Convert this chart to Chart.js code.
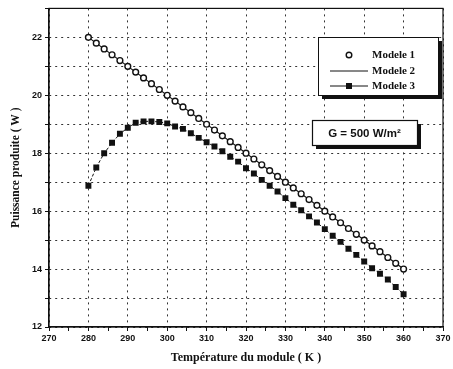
<!DOCTYPE html>
<html>
<head>
<meta charset="utf-8">
<script src="https://cdn.jsdelivr.net/npm/chart.js@4.4.0/dist/chart.umd.min.js"></script>
<style>
  html, body { margin: 0; padding: 0; background: #fff; }
  #wrap { position: relative; width: 453px; height: 369px; }
</style>
</head>
<body>
<div id="wrap"><canvas id="chart" width="453" height="369"></canvas></div>
<script>
// data
const temps = [280, 282, 284, 286, 288, 290, 292, 294, 296, 298, 300, 302, 304, 306, 308, 310, 312, 314, 316, 318, 320,
  322, 324, 326, 328, 330, 332, 334, 336, 338, 340, 342, 344, 346, 348, 350, 352, 354, 356, 358, 360];

const modele1 = [22.0, 21.8, 21.6, 21.4, 21.2, 21.0, 20.8, 20.6, 20.4, 20.2, 20.0, 19.8, 19.6, 19.4, 19.2, 19.0,
  18.8, 18.6, 18.4, 18.2, 18.0, 17.8, 17.6, 17.4, 17.2, 17.0, 16.8, 16.6, 16.4, 16.2, 16.0, 15.8, 15.6, 15.4,
  15.2, 15.0, 14.8, 14.6, 14.4, 14.2, 14.0];

const modele2T = [280, 360];
const modele2 = [22.0, 14.0];

const modele3 = [16.88, 17.51, 18.00, 18.36, 18.67, 18.88, 19.05, 19.10, 19.10, 19.08, 19.03, 18.92, 18.84, 18.69,
  18.53, 18.38, 18.23, 18.07, 17.88, 17.71, 17.48, 17.30, 17.08, 16.88, 16.68, 16.45, 16.22, 16.03, 15.82, 15.61,
  15.38, 15.15, 14.94, 14.70, 14.49, 14.26, 14.03, 13.84, 13.64, 13.38, 13.13];

const legendLabels = ['Modele 1', 'Modele 2', 'Modele 3'];
const irradiance = 'G = 500 W/m²';

const xTitle = 'Température du module ( K )';
const yTitle = 'Puissance produite ( W )';

const serif = '"Liberation Serif", "DejaVu Serif", serif';
const sans = '"Liberation Sans", Arial, sans-serif';

function pts(xs, ys) {
  return xs.map((x, i) => ({ x: x, y: ys[i] }));
}

// frame around plot + legend box + irradiance box
const boxes = {
  id: 'boxes',
  afterDraw(chart) {
    const c = chart.ctx;
    const a = chart.chartArea;
    c.save();
    c.strokeStyle = '#111';
    c.lineWidth = 1.2;
    c.strokeRect(a.left, a.top, a.right - a.left, a.bottom - a.top);

    // legend
    let lx = 318, ly = 37, lw = 120, lh = 58;
    c.fillStyle = '#111';
    c.fillRect(lx + 4, ly + 4, lw, lh);
    c.fillStyle = '#fff';
    c.fillRect(lx, ly, lw, lh);
    c.lineWidth = 1;
    c.strokeRect(lx + 0.5, ly + 0.5, lw, lh);

    const rows = [55, 71, 86];
    c.font = 'bold 11px ' + serif;
    c.textBaseline = 'middle';
    c.fillStyle = '#111';
    legendLabels.forEach((t, i) => c.fillText(t, 372, rows[i]));

    // Modele 1 marker
    c.beginPath();
    c.arc(349, rows[0], 2.8, 0, Math.PI * 2);
    c.fillStyle = '#fff';
    c.fill();
    c.lineWidth = 1.4;
    c.stroke();
    // Modele 2 line
    c.lineWidth = 1;
    c.beginPath();
    c.moveTo(330, rows[1]);
    c.lineTo(368, rows[1]);
    c.stroke();
    // Modele 3 line + square
    c.beginPath();
    c.moveTo(330, rows[2]);
    c.lineTo(368, rows[2]);
    c.stroke();
    c.fillStyle = '#111';
    c.fillRect(346, rows[2] - 3, 6, 6);

    // irradiance box
    let gx = 312, gy = 120, gw = 105, gh = 25;
    c.fillStyle = '#111';
    c.fillRect(gx + 4, gy + 4, gw, gh);
    c.fillStyle = '#fff';
    c.fillRect(gx, gy, gw, gh);
    c.lineWidth = 1.2;
    c.strokeRect(gx + 0.5, gy + 0.5, gw, gh);
    c.fillStyle = '#111';
    c.font = 'bold 11.5px ' + sans;
    c.textAlign = 'center';
    c.fillText(irradiance, gx + gw / 2, gy + gh / 2 + 1);
    c.restore();
  }
};

const ctx = document.getElementById('chart').getContext('2d');
const chart = new Chart(ctx, {
  type: 'scatter',
  data: {
    datasets: [
      {
        label: legendLabels[1],
        data: pts(modele2T, modele2),
        showLine: true,
        borderColor: '#111',
        borderWidth: 1.2,
        pointRadius: 0,
        order: 3
      },
      {
        label: legendLabels[0],
        data: pts(temps, modele1),
        showLine: false,
        pointStyle: 'circle',
        pointRadius: 2.9,
        pointBackgroundColor: '#fff',
        pointBorderColor: '#111',
        pointBorderWidth: 1.4,
        order: 2
      },
      {
        label: legendLabels[2],
        data: pts(temps, modele3),
        showLine: true,
        borderColor: '#111',
        borderWidth: 1,
        borderDash: [3, 2],
        pointStyle: 'rect',
        pointRadius: 4.2,
        pointBackgroundColor: '#111',
        pointBorderColor: '#111',
        pointBorderWidth: 0,
        order: 1
      }
    ]
  },
  options: {
    responsive: false,
    animation: false,
    layout: { padding: { left: 4, top: 7, right: 10, bottom: 0 } },
    plugins: {
      legend: { display: false },
      tooltip: { enabled: false }
    },
    scales: {
      x: {
        type: 'linear',
        min: 270,
        max: 370,
        afterFit(scale) { scale.height = 42; },
        ticks: {
          stepSize: 5,
          autoSkip: false,
          maxRotation: 0,
          padding: 2,
          color: '#111',
          font: { family: sans, size: 9, weight: 'bold' },
          callback: v => (v % 10 === 0 ? v : '')
        },
        grid: {
          color: c => (c.tick && c.tick.value % 10 === 0 ? '#333' : 'rgba(0,0,0,0)'),
          lineWidth: 1,
          tickLength: 4,
          tickColor: '#111'
        },
        border: { display: true, color: '#111', width: 1.2, dash: [2, 4] },
        title: {
          display: true,
          text: xTitle,
          color: '#111',
          padding: { top: 2, bottom: 4 },
          font: { family: serif, size: 12, weight: 'bold' }
        }
      },
      y: {
        min: 12,
        max: 23,
        afterFit(scale) { scale.width = 45; },
        ticks: {
          stepSize: 1,
          autoSkip: false,
          padding: 3,
          color: '#111',
          font: { family: sans, size: 9, weight: 'bold' },
          callback: v => (v % 2 === 0 ? v : '')
        },
        grid: {
          color: '#333',
          lineWidth: 1,
          tickLength: 4,
          tickColor: '#111'
        },
        border: { display: true, color: '#111', width: 1.2, dash: [2, 4] },
        title: {
          display: true,
          text: yTitle,
          color: '#111',
          padding: { top: 5, bottom: 2 },
          font: { family: serif, size: 11.5, weight: 'bold' }
        }
      }
    }
  },
  plugins: [boxes]
});
</script>
</body>
</html>
